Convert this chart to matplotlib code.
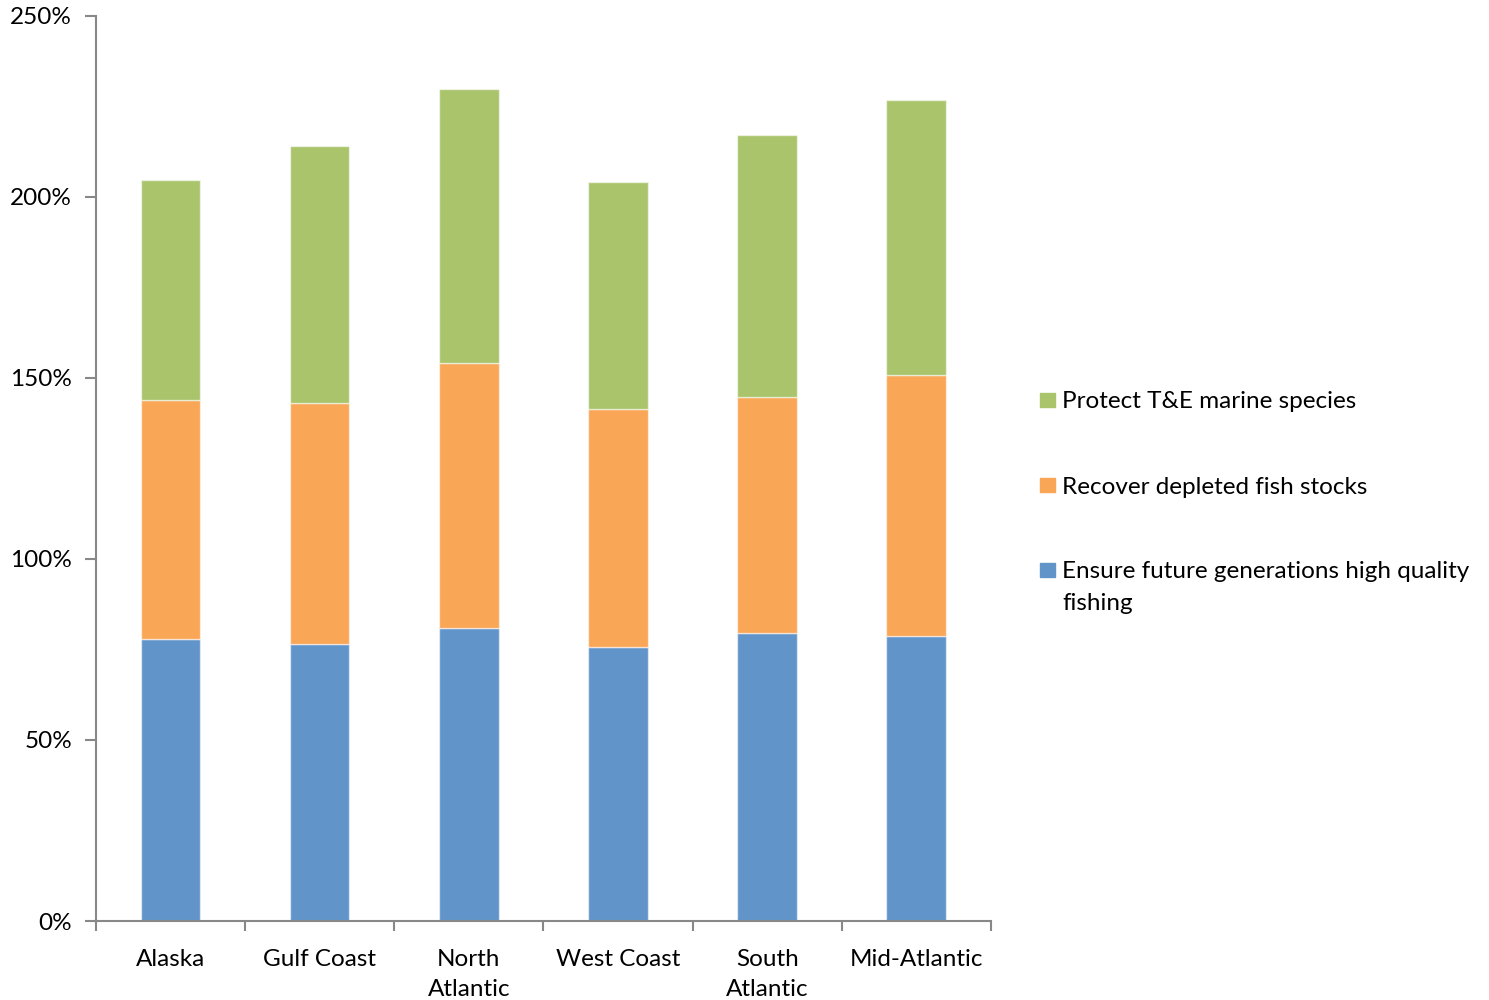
import matplotlib.pyplot as plt
import numpy as np
from matplotlib.patches import Rectangle

plt.rcParams['font.family'] = ['Lato', 'DejaVu Sans']

regions = ['Alaska', 'Gulf Coast', 'North\nAtlantic', 'West Coast', 'South\nAtlantic', 'Mid-Atlantic']
future_fishing = [78.0, 76.6, 80.8, 75.8, 79.4, 78.8]
recover_stocks = [66.0, 66.4, 73.2, 65.6, 65.3, 72.0]
protect_species = [60.5, 71.1, 75.8, 62.7, 72.4, 75.8]

series_labels = ['Ensure future generations high quality\nfishing',
                 'Recover depleted fish stocks',
                 'Protect T&E marine species']
colors = ['#6195C9', '#F9A656', '#AAC46C']

fig = plt.figure(figsize=(14.89, 10), dpi=100)
ax = fig.add_axes([0.0643, 0.079, 0.6012, 0.9053])

x = np.arange(len(regions))
bottom = np.zeros(len(regions))
for vals, c in zip([future_fishing, recover_stocks, protect_species], colors):
    ax.bar(x, vals, width=0.4, bottom=bottom, color=c,
           edgecolor=(1, 1, 1, 0.55), linewidth=1.0)
    bottom += np.array(vals)

ax.set_xlim(-0.5, len(regions) - 0.5)
ax.set_ylim(0, 250)

# y axis: percent labels with outward ticks
ax.set_yticks(np.arange(0, 251, 50))
ax.set_yticklabels([f'{v}%' for v in range(0, 251, 50)])
ax.tick_params(axis='y', length=8, width=1.5, color='#888888', pad=9, labelsize=17.5)

# x axis: ticks between categories, labels centred under bars
ax.set_xticks(np.arange(-0.5, len(regions), 1.0))
ax.set_xticklabels([])
ax.set_xticks(x, minor=True)
ax.set_xticklabels(regions, minor=True)
ax.tick_params(axis='x', which='major', length=7, width=1.5, color='#888888')
ax.tick_params(axis='x', which='minor', length=0, pad=20, labelsize=17.5)
for lbl in ax.get_xticklabels(minor=True):
    lbl.set_linespacing(1.55)

for side in ['top', 'right']:
    ax.spines[side].set_visible(False)
for side in ['left', 'bottom']:
    ax.spines[side].set_color('#888888')
    ax.spines[side].set_linewidth(1.5)

# legend drawn by hand so the marker sits on the first line of each label
W, H = 1489, 1000
legend_rows = [(2, 400), (1, 485), (0, 570)]
for idx, yc in legend_rows:
    fig.patches.append(Rectangle((1040 / W, 1 - (yc + 7) / H), 15 / W, 14 / H,
                                 transform=fig.transFigure, color=colors[idx]))
    for k, line in enumerate(series_labels[idx].split('\n')):
        fig.text(1062 / W, 1 - (yc + 2 + 32 * k) / H, line, fontsize=17.5,
                 va='center', ha='left')

fig.savefig('out.png', dpi=100)
